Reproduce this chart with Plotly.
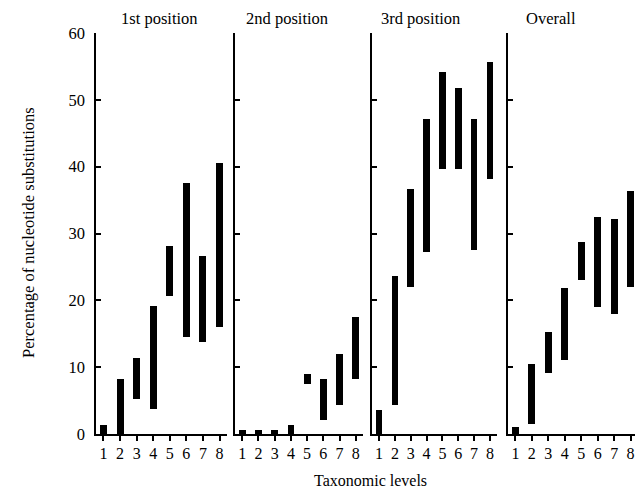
import plotly.graph_objects as go

levels = [1, 2, 3, 4, 5, 6, 7, 8]
panel_titles = ["1st position", "2nd position", "3rd position", "Overall"]

pos1_low = [0, 0, 5.3, 3.7, 20.6, 14.5, 13.8, 16.0]
pos1_high = [1.4, 8.3, 11.3, 19.2, 28.2, 37.6, 26.6, 40.5]

pos2_low = [0, 0, 0, 0, 7.5, 2.1, 4.4, 8.2]
pos2_high = [0.6, 0.6, 0.6, 1.4, 9.0, 8.2, 12.0, 17.5]

pos3_low = [0, 4.4, 22.0, 27.3, 39.7, 39.7, 27.6, 38.2]
pos3_high = [3.6, 23.6, 36.7, 47.2, 54.2, 51.8, 47.2, 55.6]

overall_low = [0, 1.5, 9.2, 11.0, 23.1, 19.0, 18.0, 22.0]
overall_high = [1.05, 10.5, 15.3, 21.8, 28.7, 32.4, 32.2, 36.4]

y_ticks = [0, 10, 20, 30, 40, 50, 60]

series = [(pos1_low, pos1_high), (pos2_low, pos2_high),
          (pos3_low, pos3_high), (overall_low, overall_high)]

# page has an 8px body margin; work in reference pixel coords and shift
OFF = 8
FIG_W, FIG_H = 643 - OFF, 490 - OFF
L = 96 - OFF
R = FIG_W - (638 - OFF)
T = 33 - OFF
B = FIG_H - (434 - OFF)
pw = FIG_W - L - R
ph = FIG_H - T - B

def px_to_paper_x(px):
    return (px - OFF - L) / pw

def px_to_paper_y(py):
    return (FIG_H - (py - OFF) - B) / ph

px_domains = [(96, 227), (235, 363), (372, 497), (508, 638)]
domains = [(px_to_paper_x(a), px_to_paper_x(b)) for a, b in px_domains]
title_x = [159, 287, 420, 551]

FONT = "Liberation Serif, Times New Roman, Times, serif"

fig = go.Figure()
for i, (lo, hi) in enumerate(series):
    sfx = "" if i == 0 else str(i + 1)
    fig.add_trace(go.Bar(
        x=levels, y=[h - l for l, h in zip(lo, hi)], base=lo,
        width=0.42, marker=dict(color="black", line=dict(width=0)),
        xaxis="x" + sfx, yaxis="y" + sfx, showlegend=False,
    ))

layout = dict(
    width=FIG_W, height=FIG_H,
    margin=dict(l=L, r=R, t=T, b=B),
    plot_bgcolor="white", paper_bgcolor="white",
    font=dict(family=FONT, size=16, color="black"),
    bargap=0,
)
for i in range(4):
    sfx = "" if i == 0 else str(i + 1)
    layout["xaxis" + sfx] = dict(
        domain=[max(0, domains[i][0]), min(1, domains[i][1])], range=[0.55, 8.45],
        tickvals=levels, ticktext=[str(v) for v in levels],
        ticks="outside", ticklen=5, tickwidth=1.5, tickcolor="black",
        showline=True, linecolor="black", linewidth=1.5,
        showgrid=False, zeroline=False, anchor="y" + sfx,
        ticklabelstandoff=-1,
        tickfont=dict(family=FONT, size=16, color="black"),
        fixedrange=True,
    )
    layout["yaxis" + sfx] = dict(
        domain=[0, 1], range=[0, 60], tickvals=y_ticks,
        ticks="inside", ticklen=5, tickwidth=1.5, tickcolor="black",
        showline=True, linecolor="black", linewidth=1.5,
        showgrid=False, zeroline=False, anchor="x" + sfx,
        showticklabels=(i == 0), ticklabelstandoff=6,
        tickfont=dict(family=FONT, size=16.5, color="black"),
        fixedrange=True,
    )
fig.update_layout(**layout)

annotations = []
for i, t in enumerate(panel_titles):
    annotations.append(dict(
        text=t, x=px_to_paper_x(title_x[i]), y=px_to_paper_y(19),
        xref="paper", yref="paper", showarrow=False,
        xanchor="center", yanchor="middle",
        font=dict(family=FONT, size=16.5, color="black"),
    ))
annotations.append(dict(
    text="Taxonomic levels", x=px_to_paper_x(370), y=px_to_paper_y(480),
    xref="paper", yref="paper", showarrow=False,
    xanchor="center", yanchor="middle",
    font=dict(family=FONT, size=16, color="black"),
))
annotations.append(dict(
    text="Percentage of nucleotide substitutions", textangle=-90,
    x=px_to_paper_x(28), y=px_to_paper_y(233),
    xref="paper", yref="paper", showarrow=False,
    xanchor="center", yanchor="middle",
    font=dict(family=FONT, size=16.5, color="black"),
))
fig.update_layout(annotations=annotations)

fig.write_html("out.html")
